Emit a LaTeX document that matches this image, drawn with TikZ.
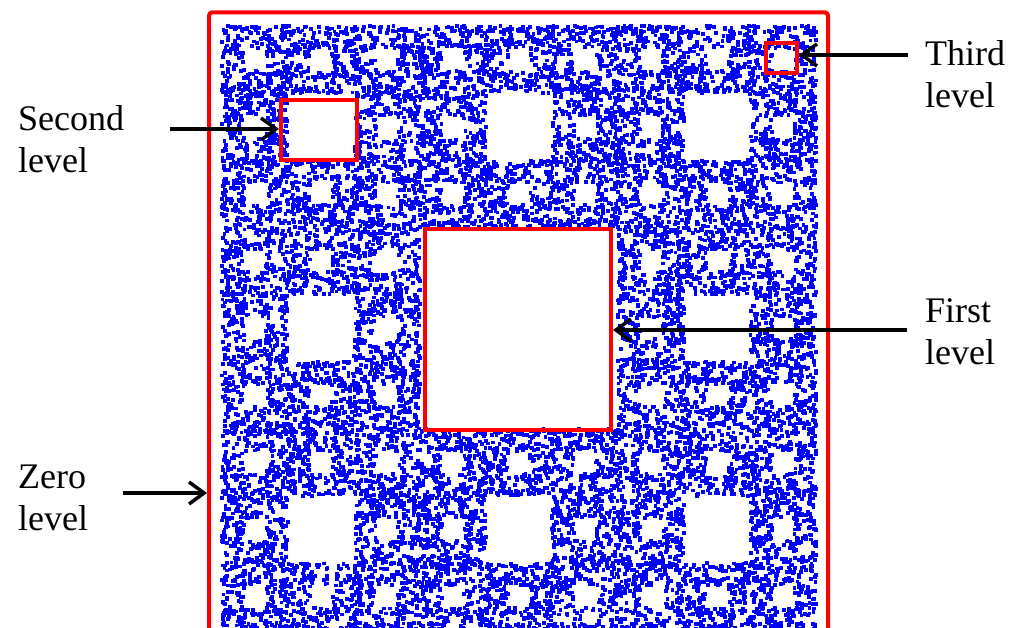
\documentclass[tikz,border=0pt]{standalone}
\usepackage{fontspec}
\setmainfont{Liberation Serif}
\usetikzlibrary{arrows.meta}
\newcount\sqcx \newcount\sqcy \newcount\sqk \newcount\sqj \newcount\sqi
\newdimen\sqpx \newdimen\sqpy
\def\sierpdigit{%
  \pgfmathrandominteger{\sqrnd}{0}{7}%
  \sqk=\sqrnd\relax
  \ifnum\sqk>3 \advance\sqk 1 \fi
  \sqj=\sqk \divide\sqj 3
  \multiply\sqcy 3 \advance\sqcy\sqj
  \multiply\sqj 3 \advance\sqk -\sqj
  \multiply\sqcx 3 \advance\sqcx\sqk
}
\tikzset{
  redbox/.style={draw=red, line width=4pt, inner sep=0pt, minimum width=#1},
  lbl/.style={font=\fontsize{36}{42}\selectfont, align=left, anchor=base west, inner sep=0pt},
  arr/.style={line width=3.5pt, -{Straight Barb[length=15pt,width=22pt]}}
}
\begin{document}
\begin{tikzpicture}[x=1pt,y=-1pt]
\useasboundingbox (0,0) rectangle (1024,628);
% random Sierpinski carpet dots
\begin{pgfscope}
\pgfsetfillcolor{blue}
\pgfmathsetseed{4711}
\sqi=0
\loop
  \sqcx=0 \sqcy=0
  \sierpdigit\sierpdigit\sierpdigit\sierpdigit
  \pgfmathrandominteger{\sqfx}{0}{999}%
  \pgfmathrandominteger{\sqfy}{0}{999}%
  \multiply\sqcx 1000 \advance\sqcx\sqfx\relax
  \multiply\sqcy 1000 \advance\sqcy\sqfy\relax
  \sqpx=\dimexpr 0.00733580pt*\sqcx + 220pt\relax
  \sqpy=\dimexpr -0.00745926pt*\sqcy - 27.8pt\relax
  \pgfpathrectangle{\pgfqpoint{\sqpx}{\sqpy}}{\pgfqpoint{3.8pt}{3.8pt}}%
  \pgfusepath{fill}%
  \advance\sqi 1
\ifnum\sqi<15500 \repeat
\end{pgfscope}
% red level boxes
\node[redbox=619pt, minimum height=650pt, rounded corners=3pt] (zero) at (518.5,337.5) {};
\node[redbox=186pt, minimum height=200pt] (first) at (518,329.5) {};
\node[redbox=75.5pt, minimum height=60.5pt] (second) at (318.75,130.25) {};
\node[redbox=31.5pt, minimum height=30pt] (third) at (781.25,58.5) {};
% labels (anchor at baseline of last line)
\node[lbl] (lsecond) at (18,173) {Second\\level};
\node[lbl] (lthird) at (925,108) {Third\\level};
\node[lbl] (lfirst) at (925,364) {First\\level};
\node[lbl] (lzero) at (18,530) {Zero\\level};
% arrow tails
\coordinate (tsecond) at (170,129);
\coordinate (tthird) at (908,55);
\coordinate (tfirst) at (907,330);
\coordinate (tzero) at (123,493);
\draw[arr] (tsecond) -- (tsecond -| second.west);
\draw[arr] (tthird) -- (tthird -| third.east);
\draw[arr] (tfirst) -- (tfirst -| first.east);
\draw[arr] (tzero) -- (tzero -| zero.west);
\end{tikzpicture}
\end{document}
